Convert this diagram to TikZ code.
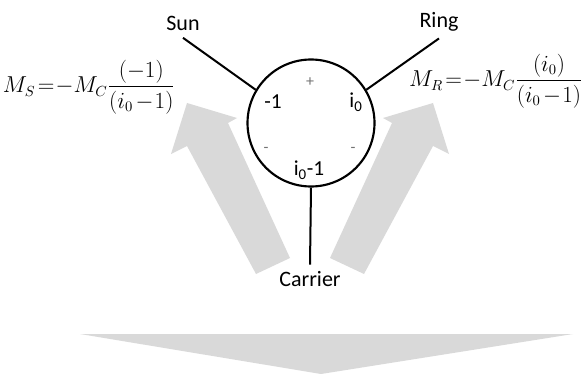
\documentclass[tikz,border=0pt]{standalone}
\usepackage{amsmath}
\usepackage{fontspec}
\setmainfont{Carlito}
\definecolor{arrowgrey}{RGB}{217,217,217}
\tikzset{
    hub/.style={circle, draw, line width=1.6pt, minimum size=95.25pt, inner sep=0pt},
    shaft/.style={font=\fontsize{16.5}{19}\selectfont, inner sep=2pt, outer sep=3pt},
    gearlabel/.style={font=\fontsize{16}{19}\selectfont, inner sep=1pt},
    sign/.style={font=\fontsize{12}{14}\selectfont, text=black!55, inner sep=1pt},
    formula/.style={font=\fontsize{16.2}{19}\selectfont, inner sep=0pt},
    link/.style={line width=1.5pt}
}
\begin{document}
\begin{tikzpicture}[x=0.75pt, y=-0.75pt]
    \useasboundingbox (0,0) rectangle (581,374);
    % grey block arrows
    \fill[arrowgrey] (256,274) -- (187,146) -- (171,154) -- (187,103) -- (237,118) -- (228,123) -- (290,258) -- cycle;
    \fill[arrowgrey] (364,274) -- (433,146) -- (449,154) -- (433,103) -- (383,118) -- (392,123) -- (330,258) -- cycle;
    \fill[arrowgrey] (80,334) -- (573,334) -- (321,374) -- cycle;
    % planetary set
    \node[hub] (hub) at (311,123) {};
    \node[sign] (plus) at (310,82) {+};
    \node[gearlabel] (sunratio) at (273,102) {-1};
    \node[gearlabel] (ringratio) at (356,102) {i\textsubscript{0}};
    \node[sign] (leftminus) at (266,150) {-};
    \node[sign] (rightminus) at (353,150) {-};
    \node[gearlabel] (carrierratio) at (309,170) {i\textsubscript{0}-1};
    \node[shaft, anchor=base] (sun) at (183,31) {Sun};
    \node[shaft, anchor=base] (ring) at (439,28) {Ring};
    \node[shaft] (carrier) at (310,279) {Carrier};
    \draw[link] (sun.south) -- (hub.149);
    \draw[link] (ring.south) -- (hub.31);
    \draw[link] (hub.south) -- (carrier.north);
    % moments
    \node[formula] (sunmoment) at (89,87) {$M_S\mskip2mu{=}\mskip1mu{-}M_C\dfrac{(-1)}{(i_0\mskip2mu{-}\mskip1mu1)}$};
    \node[formula] (ringmoment) at (496,81) {$M_R\mskip2mu{=}\mskip1mu{-}M_C\dfrac{(i_0)}{(i_0\mskip2mu{-}\mskip1mu1)}$};
\end{tikzpicture}
\end{document}
